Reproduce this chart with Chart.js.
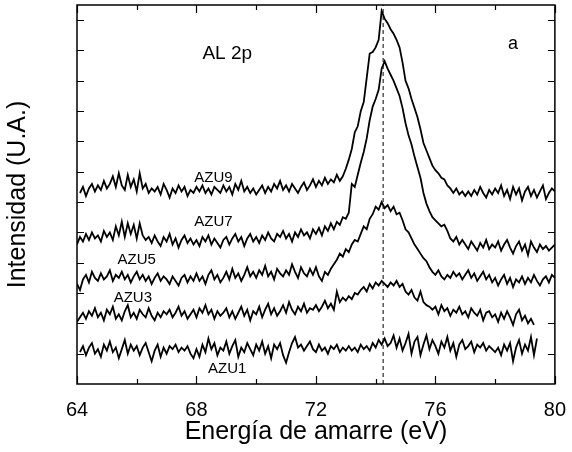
<!DOCTYPE html>
<html>
<head>
<meta charset="utf-8">
<script src="https://cdn.jsdelivr.net/npm/chart.js@4.4.0/dist/chart.umd.min.js"></script>
<style>
html, body { margin: 0; padding: 0; background: #fff; }
</style>
</head>
<body>
<canvas id="xpsChart" width="572" height="452"></canvas>
<script>
// Al 2p spectra, one sample every 0.1 eV
const energyStep = 0.1;

const azu1Start = 64.1;
const azu1 = [
  1.05, 1.25, 0.95, 1.2, 1.35, 1.0, 1.15, 0.9, 1.3, 1.1,
  1.4, 1.05, 1.2, 0.85, 1.15, 1.45, 1.0, 1.3, 1.1, 1.25,
  0.95, 1.2, 1.35, 1.05, 0.75, 1.1, 1.3, 0.9, 1.2, 1.0,
  1.25, 1.15, 1.3, 1.05, 1.2, 1.1, 1.25, 1.0, 0.85, 1.15,
  0.9, 1.3, 1.05, 1.5, 1.15, 1.35, 0.95, 1.2, 1.1, 1.4,
  1.0, 1.25, 1.45, 0.9, 1.2, 1.05, 1.35, 1.15, 0.95, 1.3,
  1.1, 1.4, 1.0, 1.25, 0.85, 1.3, 1.15, 1.35, 0.95, 0.7,
  1.05, 1.35, 1.55, 1.2, 1.3, 1.1, 1.25, 1.4, 1.15, 1.05,
  1.3, 1.1, 1.2, 1.0, 1.25, 1.15, 1.3, 1.05, 1.2, 1.1,
  1.25, 1.1, 1.2, 1.05, 1.3, 1.15, 1.25, 1.1, 1.35, 1.2,
  1.45, 1.3, 1.5, 1.25, 1.35, 1.6, 1.2, 1.5, 1.1, 1.35,
  1.65, 1.0, 1.4, 1.55, 0.95, 1.3, 1.6, 1.15, 1.45, 1.25,
  1.0, 1.4, 1.2, 1.55, 1.1, 1.35, 0.9, 1.3, 1.45, 1.15,
  1.25, 1.4, 1.05, 1.3, 1.2, 1.35, 1.1, 1.25, 1.15, 1.05,
  1.2, 0.95, 1.3, 1.1, 1.35, 0.75, 1.2, 1.45, 1.0, 1.3,
  1.1, 1.55, 0.95, 1.5
];

const azu3Start = 64.0;
const azu3 = [
  2.05, 2.2, 2.35, 2.15, 2.4, 2.25, 2.5, 2.2, 2.35, 2.1,
  2.45, 2.3, 2.55, 2.15, 2.3, 2.1, 2.4, 2.6, 2.2, 2.35,
  2.15, 2.45, 2.3, 2.2, 2.5, 2.25, 2.1, 2.35, 2.2, 2.4,
  2.3, 2.45, 2.2, 2.35, 2.55, 2.25, 2.4, 2.15, 2.3, 2.45,
  2.2, 2.5, 2.35, 2.6, 2.3, 2.45, 2.15, 2.4, 2.25, 2.35,
  2.5, 2.2, 2.4, 2.15, 2.35, 2.55, 2.25, 2.45, 2.1, 2.4,
  2.3, 2.55, 2.2, 2.45, 2.65, 2.3, 2.5, 2.25, 2.4, 2.6,
  2.35, 2.7, 2.45, 2.3, 2.55, 2.4, 2.65, 2.35, 2.5, 2.45,
  2.6, 2.4, 2.55, 2.75, 2.5, 2.65, 2.45, 3.05, 2.7, 2.85,
  2.75, 2.9, 2.8, 3.0, 2.95, 3.1, 3.2, 3.05, 3.3, 3.15,
  3.35, 3.25, 3.4, 3.3, 3.2, 3.35, 3.25, 3.4, 3.2, 3.3,
  3.05, 2.95, 3.1, 2.85, 2.75, 3.05, 2.7, 2.6, 2.55, 2.45,
  2.55, 2.3, 2.6, 2.4, 2.5, 2.25, 2.45, 2.35, 2.55, 2.3,
  2.4, 2.2, 2.5, 2.35, 2.25, 2.45, 2.1, 2.35, 2.4, 2.2,
  2.3, 2.05, 2.35, 2.15, 2.4, 2.2, 1.95, 2.3, 2.45, 2.1,
  2.25, 2.0, 2.15, 1.95
];

const azu5Start = 64.0;
const azu5 = [
  3.3, 3.1, 3.45, 3.6, 3.35, 3.7, 3.5, 3.4, 3.65, 3.45,
  3.55, 3.75, 3.4, 3.6, 3.5, 3.7, 3.45, 3.6, 3.35, 3.55,
  3.7, 3.45, 3.6, 3.4, 3.55, 3.3, 3.5, 3.65, 3.4, 3.55,
  3.45, 3.3, 3.55, 3.4, 3.25, 3.5, 3.6, 3.35, 3.55, 3.4,
  3.65, 3.4, 3.55, 3.3, 3.6, 3.75, 3.45, 3.6, 3.35, 3.5,
  3.7, 3.45, 3.8, 3.5, 3.65, 3.4, 3.6, 3.85, 3.55, 3.7,
  3.5, 3.75, 3.6, 3.9, 3.55, 3.7, 3.45, 3.8, 3.65, 3.55,
  3.75, 3.6, 3.95, 3.7, 3.5, 3.85, 3.65, 3.55, 3.8, 3.6,
  3.85, 3.55, 3.4, 3.7, 3.6, 3.8, 3.95, 4.1, 4.3, 4.2,
  4.45, 4.35, 4.6, 4.75, 4.7, 4.95, 5.2, 5.1, 5.45, 5.6,
  5.85, 5.75, 6.0, 5.8, 5.9, 5.7, 5.85, 5.6, 5.65, 5.4,
  5.1, 5.0, 4.8, 4.6, 4.45, 4.3, 4.15, 4.05, 3.85, 3.7,
  3.6, 3.75, 3.55, 3.45, 3.6, 3.5, 3.7, 3.55, 3.65, 3.45,
  3.6, 3.75, 3.5, 3.65, 3.4, 3.55, 3.7, 3.45, 3.6, 3.35,
  3.5, 3.25, 3.45, 3.6, 3.3, 3.5, 3.2, 3.45, 3.35, 3.55,
  3.3, 3.5, 3.35, 3.6, 3.4, 3.25, 3.45, 3.55, 3.35, 3.6,
  3.5
];

const azu7Start = 64.0;
const azu7 = [
  4.6, 4.85, 4.7, 4.95, 4.75, 5.0, 4.8, 4.9, 4.7, 5.05,
  4.85, 5.0, 4.75, 5.2, 4.9, 5.35, 4.85, 5.3, 4.95, 5.25,
  4.8, 5.3, 4.9, 4.75, 4.85, 4.65, 4.9, 4.7, 4.55, 4.85,
  4.7, 4.95, 4.6, 4.8, 4.5, 4.75, 4.9, 4.65, 4.8, 4.6,
  4.75, 4.55, 4.85, 4.7, 4.9, 4.6, 4.8, 4.65, 4.5, 4.75,
  4.85, 4.6, 4.8, 4.95, 4.7, 4.85, 4.55, 4.8, 4.95, 4.7,
  4.85, 4.65, 4.9, 4.75, 5.0, 4.8, 4.7, 4.95, 4.85, 5.05,
  4.8, 4.95, 4.7, 5.0, 4.85, 5.1, 4.9, 5.0, 4.8, 5.1,
  4.95, 5.15, 4.9, 5.2, 5.05, 5.3, 5.1, 5.35, 5.25, 5.5,
  5.45, 5.65, 6.6, 6.5, 6.9, 7.3, 7.65, 8.1, 8.7, 9.15,
  9.4, 9.7, 10.4, 10.65, 10.4, 10.2, 10.0, 9.75, 9.5, 9.1,
  8.6, 8.2, 7.9, 7.5, 7.15, 6.8, 6.3, 5.95, 5.7, 5.5,
  5.4, 5.3, 5.2, 5.25, 5.05, 4.8, 4.7, 4.85, 4.6, 4.75,
  4.6, 4.45, 4.7, 4.55, 4.4, 4.65, 4.5, 4.75, 4.45, 4.6,
  4.5, 4.7, 4.4, 4.6, 4.75, 4.5, 4.3, 4.55, 4.7, 4.4,
  4.6, 4.25, 4.7, 4.5, 4.35, 4.6, 4.45, 4.55, 4.4, 4.5,
  4.6
];

const azu9Start = 64.1;
const azu9 = [
  6.3, 6.5, 6.2, 6.45, 6.6, 6.35, 6.55, 6.4, 6.7, 6.45,
  6.6, 6.85, 6.5, 6.95, 6.55, 6.4, 6.9, 6.5, 6.75, 6.35,
  6.95, 6.45, 6.6, 6.3, 6.45, 6.35, 6.5, 6.25, 6.6, 6.4,
  6.15, 6.45, 6.3, 6.55, 6.35, 6.5, 6.2, 6.4, 6.3, 6.5,
  6.35, 6.55, 6.3, 6.45, 6.25, 6.5, 6.4, 6.3, 6.55, 6.35,
  6.5, 6.25, 6.6, 6.4, 6.7, 6.35, 6.5, 6.3, 6.45, 6.25,
  6.4, 6.55, 6.3, 6.5, 6.35, 6.6, 6.45, 6.7, 6.4, 6.55,
  6.35, 6.6, 6.45, 6.3, 6.5, 6.65, 6.4, 6.55, 6.75, 6.5,
  6.7, 6.55, 6.8, 6.6, 6.75, 6.65, 6.9, 6.7, 6.85, 7.1,
  7.4, 7.75, 8.3, 8.5, 9.0, 9.3, 10.1, 10.9, 10.95, 11.1,
  11.35, 12.3, 12.05, 11.9, 11.7, 11.55, 11.35, 11.1, 10.6, 10.0,
  9.75, 9.4, 9.1, 8.8, 8.4, 7.95, 7.7, 7.45, 7.2, 7.05,
  6.95, 6.8, 6.75, 6.55, 6.45, 6.3, 6.45, 6.25, 6.35, 6.2,
  6.35, 6.2, 6.4, 6.25, 6.5, 6.3, 6.15, 6.4, 6.25, 6.45,
  6.3, 6.55, 6.2, 6.4, 6.1, 6.5, 6.25, 6.45, 6.05, 6.35,
  6.5, 6.2, 6.4, 6.15, 6.35, 6.55, 6.1, 6.3, 6.45, 6.35
];

const peakEnergy = 74.25;
const xTicks = [64, 66, 68, 70, 72, 74, 76, 78, 80];
const yTicks = [1, 2, 3, 4, 5, 6, 7, 8, 9, 10, 11, 12];

function toPoints(start, values) {
  return values.map((v, i) => ({ x: +(start + i * energyStep).toFixed(2), y: v }));
}

function spectrum(label, start, values) {
  return {
    label: label,
    data: toPoints(start, values),
    borderColor: '#000',
    borderWidth: 1.8,
    pointRadius: 0,
    fill: false,
    tension: 0
  };
}

// frame, inward ticks and in-plot labels
const decorations = {
  id: 'decorations',
  afterDraw(chart) {
    const { ctx, chartArea: a, scales } = chart;
    const xs = scales.x, ys = scales.y;
    ctx.save();
    ctx.strokeStyle = '#000';
    ctx.lineWidth = 1.5;
    ctx.strokeRect(a.left, a.top, a.right - a.left, a.bottom - a.top);

    ctx.lineWidth = 1.2;
    ctx.beginPath();
    xTicks.forEach(v => {
      const px = Math.round(xs.getPixelForValue(v)) + 0.5;
      const len = (v % 4 === 0) ? 8 : 5;
      ctx.moveTo(px, a.bottom); ctx.lineTo(px, a.bottom - len);
      ctx.moveTo(px, a.top); ctx.lineTo(px, a.top + len);
    });
    yTicks.forEach(v => {
      const py = Math.round(ys.getPixelForValue(v)) + 0.5;
      ctx.moveTo(a.left, py); ctx.lineTo(a.left + 7, py);
      ctx.moveTo(a.right, py); ctx.lineTo(a.right - 7, py);
    });
    ctx.stroke();

    ctx.fillStyle = '#000';
    ctx.textAlign = 'center';
    ctx.textBaseline = 'middle';
    const put = (txt, x, y, size) => {
      ctx.font = size + 'px "Liberation Sans", Arial, sans-serif';
      ctx.fillText(txt, xs.getPixelForValue(x), ys.getPixelForValue(y));
    };
    put('AZU9', 68.57, 6.8, 15);
    put('AZU7', 68.57, 5.35, 15);
    put('AZU5', 66.0, 4.1, 15);
    put('AZU3', 65.87, 2.85, 15);
    put('AZU1', 69.03, 0.5, 15);
    put('AL 2p', 69.03, 10.9, 19);
    put('a', 78.6, 11.2, 18);
    ctx.restore();
  }
};

const ctx = document.getElementById('xpsChart').getContext('2d');
const xpsChart = new Chart(ctx, {
  type: 'line',
  data: {
    datasets: [
      spectrum('AZU1', azu1Start, azu1),
      spectrum('AZU3', azu3Start, azu3),
      spectrum('AZU5', azu5Start, azu5),
      spectrum('AZU7', azu7Start, azu7),
      spectrum('AZU9', azu9Start, azu9),
      {
        label: 'pico',
        data: [{ x: peakEnergy, y: 0 }, { x: peakEnergy, y: 12.5 }],
        borderColor: '#000',
        borderWidth: 1,
        borderDash: [4, 3],
        pointRadius: 0
      }
    ]
  },
  options: {
    responsive: false,
    animation: false,
    devicePixelRatio: 1,
    layout: { padding: { top: 5, right: 15, left: 0, bottom: 0 } },
    plugins: { legend: { display: false }, tooltip: { enabled: false } },
    scales: {
      x: {
        type: 'linear',
        min: 64,
        max: 80,
        grid: { display: false },
        border: { display: false },
        ticks: {
          stepSize: 4,
          padding: 6,
          color: '#000',
          font: { family: '"Liberation Sans", Arial, sans-serif', size: 20 }
        },
        title: {
          display: true,
          text: 'Energía de amarre (eV)',
          color: '#000',
          padding: { top: 0, bottom: 5 },
          font: { family: '"Liberation Sans", Arial, sans-serif', size: 25 }
        },
        afterFit(scale) { scale.height = 68; }
      },
      y: {
        min: 0,
        max: 12.5,
        grid: { display: false },
        border: { display: false },
        ticks: { display: false },
        title: {
          display: true,
          text: 'Intensidad (U.A.)',
          color: '#000',
          padding: { top: 3, bottom: 0 },
          font: { family: '"Liberation Sans", Arial, sans-serif', size: 25 }
        },
        afterFit(scale) { scale.width = 77; }
      }
    }
  },
  plugins: [decorations]
});
</script>
</body>
</html>
